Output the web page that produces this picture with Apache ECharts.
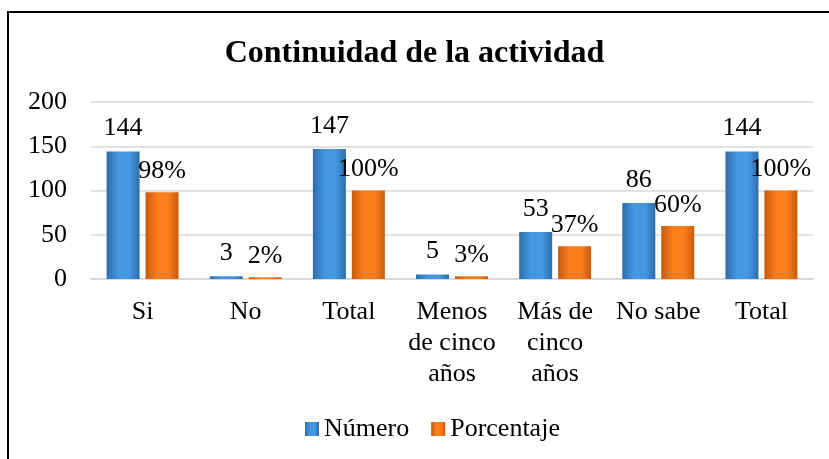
<!DOCTYPE html>
<html>
<head>
<meta charset="utf-8">
<script src="https://cdn.jsdelivr.net/npm/echarts@6/dist/echarts.min.js"></script>
<style>
  html, body { margin: 0; padding: 0; background: #fff; }
  #chart { width: 829px; height: 459px; }
</style>
</head>
<body>
<div id="chart"></div>
<script>
// categorias del eje x
var categorias = ['Si', 'No', 'Total', 'Menos\nde cinco\naños', 'Más de\ncinco\naños', 'No sabe', 'Total'];

// valores de las series
var numero = [144, 3, 147, 5, 53, 86, 144];
var porcentaje = [98, 2, 100, 3, 37, 60, 100];

// etiquetas del eje y
var ticksY = [0, 50, 100, 150, 200];

var fuente = 'Liberation Serif';

function degradado(borde, centro) {
    return new echarts.graphic.LinearGradient(0, 0, 1, 0, [
        { offset: 0, color: borde },
        { offset: 0.35, color: centro },
        { offset: 0.7, color: centro },
        { offset: 1, color: borde }
    ]);
}

var grafico = echarts.init(document.getElementById('chart'));

grafico.setOption({
    animation: false,
    backgroundColor: '#fff',
    title: {
        text: 'Continuidad de la actividad',
        left: 'center',
        top: 33,
        textStyle: { fontFamily: fuente, fontSize: 32, fontWeight: 'bold', color: '#000' }
    },
    graphic: [{
        type: 'rect',
        shape: { x: 8, y: 12, width: 840, height: 470 },
        style: { fill: 'none', stroke: '#000', lineWidth: 2 },
        silent: true
    }],
    legend: {
        bottom: 12,
        left: 300,
        itemWidth: 14,
        itemHeight: 14,
        itemGap: 22,
        icon: 'rect',
        textStyle: { fontFamily: fuente, fontSize: 26, color: '#000' },
        data: ['Número', 'Porcentaje']
    },
    grid: { left: 91, right: 16, top: 102, bottom: 180 },
    xAxis: {
        type: 'category',
        data: categorias,
        axisLine: { lineStyle: { color: '#d9d9d9', width: 2 } },
        axisTick: { show: false },
        axisLabel: {
            fontFamily: fuente, fontSize: 26, color: '#000',
            lineHeight: 31, margin: 18, interval: 0
        }
    },
    yAxis: {
        type: 'value',
        min: ticksY[0],
        max: ticksY[ticksY.length - 1],
        interval: 50,
        axisLine: { show: false },
        axisTick: { show: false },
        splitLine: { lineStyle: { color: '#d9d9d9', width: 1.5 } },
        axisLabel: { fontFamily: fuente, fontSize: 26, color: '#000', margin: 24 }
    },
    series: [{
        name: 'Número',
        type: 'bar',
        data: numero,
        barWidth: 33,
        barGap: '18%',
        itemStyle: { color: degradado('#2d6cab', '#4597e0') },
        label: {
            show: true, position: 'top', distance: 10,
            fontFamily: fuente, fontSize: 26, color: '#000'
        }
    }, {
        name: 'Porcentaje',
        type: 'bar',
        data: porcentaje,
        barWidth: 33,
        itemStyle: { color: degradado('#c85a0c', '#fb7d1c') },
        label: {
            show: true, position: 'top', distance: 8,
            fontFamily: fuente, fontSize: 26, color: '#000',
            formatter: '{c}%'
        }
    }]
});
</script>
</body>
</html>
